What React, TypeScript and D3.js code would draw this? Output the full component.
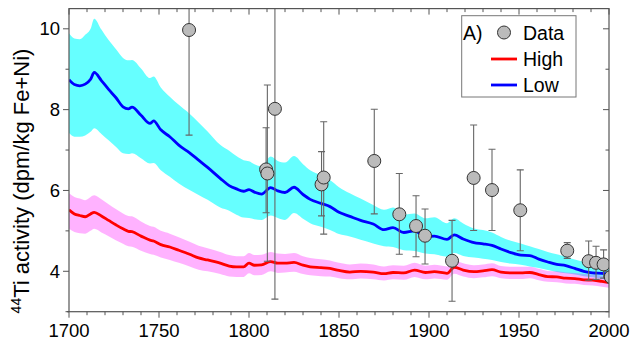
import React from "react";
import * as d3 from "d3";

const years = [1700,1703,1706,1709,1712,1714,1718,1722,1726,1730,1733,1735,1740,1745,1747,1751,1756,1761,1767,1772,1777,1784,1789,1793,1797,1800,1803,1807,1812,1816,1820,1825,1830,1834,1840,1845,1850,1856,1862,1869,1875,1880,1886,1892,1898,1903,1910,1914,1919,1925,1930,1935,1940,1945,1951,1956,1961,1966,1971,1976,1981,1986,1991,1996,2000];
const low = [8.74,8.62,8.59,8.63,8.75,8.92,8.72,8.50,8.30,8.07,8.02,8.06,7.86,7.66,7.72,7.50,7.33,7.12,6.93,6.75,6.57,6.30,6.12,6.04,5.98,6.02,5.96,5.91,6.07,5.99,5.95,6.08,5.90,5.78,5.68,5.60,5.46,5.36,5.26,5.17,5.03,5.08,4.96,5.00,4.86,4.87,4.79,4.90,4.80,4.71,4.68,4.64,4.55,4.47,4.40,4.39,4.30,4.23,4.17,4.14,4.07,4.00,3.96,3.95,3.93];
const lowUpper = [9.89,9.76,9.74,9.85,10.0,10.25,9.98,9.72,9.50,9.28,9.22,9.23,9.02,8.78,8.82,8.55,8.32,8.12,7.90,7.68,7.46,7.13,6.98,6.85,6.75,6.72,6.65,6.60,6.84,6.73,6.69,6.85,6.65,6.50,6.38,6.26,6.08,5.93,5.80,5.64,5.52,5.58,5.40,5.43,5.31,5.34,5.19,5.31,5.18,5.06,5.02,4.96,4.85,4.76,4.69,4.62,4.55,4.48,4.42,4.36,4.29,4.23,4.18,4.14,4.11];
const lowLower = [7.42,7.33,7.33,7.36,7.45,7.54,7.40,7.24,7.08,6.92,6.90,6.92,6.80,6.67,6.68,6.50,6.34,6.17,6.01,5.89,5.77,5.58,5.50,5.40,5.33,5.32,5.29,5.27,5.38,5.32,5.27,5.44,5.30,5.19,5.10,5.02,4.92,4.86,4.78,4.69,4.62,4.60,4.52,4.50,4.44,4.42,4.36,4.45,4.38,4.34,4.31,4.28,4.23,4.19,4.16,4.12,4.08,4.03,3.98,3.95,3.92,3.88,3.85,3.81,3.78];
const high = [5.52,5.42,5.38,5.35,5.42,5.46,5.37,5.26,5.15,5.05,4.99,4.98,4.87,4.77,4.75,4.66,4.60,4.52,4.42,4.33,4.28,4.20,4.13,4.11,4.11,4.20,4.15,4.16,4.24,4.20,4.20,4.22,4.15,4.11,4.09,4.07,4.02,3.98,4.00,3.98,3.94,3.97,3.96,4.03,3.97,3.99,3.95,4.10,4.03,3.99,4.01,4.04,3.98,3.96,3.96,3.97,3.92,3.87,3.86,3.83,3.82,3.79,3.78,3.75,3.72];
const highUpper = [5.93,5.84,5.80,5.76,5.84,5.88,5.78,5.66,5.54,5.43,5.37,5.36,5.23,5.12,5.10,5.00,4.93,4.84,4.73,4.63,4.57,4.48,4.40,4.37,4.37,4.45,4.40,4.41,4.48,4.44,4.43,4.45,4.37,4.33,4.30,4.27,4.21,4.17,4.19,4.17,4.12,4.15,4.14,4.21,4.14,4.16,4.12,4.27,4.20,4.15,4.17,4.20,4.13,4.11,4.11,4.11,4.06,4.01,4.00,3.97,3.96,3.93,3.92,3.89,3.86];
const highLower = [5.05,4.97,4.94,4.93,5.00,5.05,4.96,4.87,4.77,4.68,4.62,4.61,4.51,4.43,4.41,4.34,4.28,4.21,4.12,4.04,4.00,3.93,3.87,3.86,3.86,3.95,3.90,3.91,4.00,3.96,3.97,3.99,3.93,3.90,3.88,3.87,3.83,3.80,3.82,3.80,3.77,3.80,3.79,3.86,3.80,3.82,3.79,3.94,3.87,3.83,3.85,3.88,3.83,3.81,3.81,3.83,3.78,3.74,3.73,3.70,3.69,3.66,3.65,3.62,3.59];

const dataYears = [1766.7,1809.5,1810.2,1814.4,1840.3,1841.5,1869.6,1883.5,1892.8,1897.8,1912.8,1924.8,1935.0,1950.7,1976.8,1988.7,1992.8,1997.0,2001.0];
const dataValues = [9.97,6.52,6.42,8.02,6.15,6.32,6.73,5.41,5.12,4.88,4.26,6.31,6.01,5.51,4.51,4.25,4.21,4.17,3.86];
const dataLow = [7.37,5.45,4.25,3.31,5.37,4.92,5.42,4.42,4.36,4.18,3.26,5.01,5.01,4.51,4.32,3.78,3.80,3.83,3.70];
const dataHigh = [12.6,7.55,8.61,12.7,6.96,7.70,8.01,6.42,5.87,5.54,5.26,7.62,7.02,6.51,4.71,4.75,4.62,4.53,4.00];

const xTicks = [1700,1750,1800,1850,1900,1950,2000];
const yTicks = [4,6,8,10];

const W = 631, H = 342;
const L = 69, R = 609, T = 8.6, B = 311.7;
const FONT = "'Liberation Sans', Arial, sans-serif";
const AX = "#555";

export default function App() {
  const x = d3.scaleLinear().domain([1700, 2000]).range([L, R]);
  const y = d3.scaleLinear().domain([3, 10.5]).range([B, T]);
  const idx = d3.range(years.length);

  const band = (up: number[], dn: number[]) =>
    d3.area<number>().x(i => x(years[i])).y0(i => y(dn[i])).y1(i => y(up[i])).curve(d3.curveMonotoneX)(idx) || "";
  const line = (v: number[]) =>
    d3.line<number>().x(i => x(years[i])).y(i => y(v[i])).curve(d3.curveMonotoneX)(idx) || "";

  const minorX = d3.range(1700, 2001, 10);
  const minorY = d3.range(3, 10.01, 1);

  return (
    <svg width={W} height={H} style={{ position: "absolute", left: 0, top: 0, background: "#fff" }} fontFamily={FONT}>
      <defs>
        <clipPath id="plot"><rect x={L} y={T} width={R - L} height={B - T} /></clipPath>
      </defs>
      <g clipPath="url(#plot)">
        <path d={band(lowUpper, lowLower)} fill="#00ffff" fillOpacity={0.6} />
        <path d={band(highUpper, highLower)} fill="#ff00ff" fillOpacity={0.3} />
        <path d={line(high)} fill="none" stroke="#ff0000" strokeWidth={2.8} />
        <path d={line(low)} fill="none" stroke="#0000ff" strokeWidth={2.8} />
        {dataYears.map((yr, i) => (
          <g key={"e" + i} stroke="#666" strokeWidth={1.1}>
            <line x1={x(yr)} x2={x(yr)} y1={y(dataLow[i])} y2={y(dataHigh[i])} />
            <line x1={x(yr) - 3.5} x2={x(yr) + 3.5} y1={y(dataLow[i])} y2={y(dataLow[i])} />
            <line x1={x(yr) - 3.5} x2={x(yr) + 3.5} y1={y(dataHigh[i])} y2={y(dataHigh[i])} />
          </g>
        ))}
        {dataYears.map((yr, i) => (
          <circle key={"c" + i} cx={x(yr)} cy={y(dataValues[i])} r={6.5} fill="#bbbbbb" stroke="#333" strokeWidth={1} />
        ))}
      </g>
      {/* frame */}
      <rect x={L} y={T} width={R - L} height={B - T} fill="none" stroke={AX} strokeWidth={1.2} />
      <line x1={L - 2} x2={L} y1={B} y2={B} stroke={AX} strokeWidth={1.2} />
      {/* x ticks */}
      {minorX.map(v => {
        const major = v % 50 === 0;
        const len = major ? 6 : 3.5;
        return (
          <g key={"xt" + v} stroke={AX} strokeWidth={1}>
            <line x1={x(v)} x2={x(v)} y1={B} y2={B + len} />
            <line x1={x(v)} x2={x(v)} y1={T} y2={T + len} />
          </g>
        );
      })}
      {minorY.map(v => {
        const major = v % 2 === 0;
        const len = major ? 6 : 3.5;
        return (
          <g key={"yt" + v} stroke={AX} strokeWidth={1}>
            <line x1={L - len} x2={L} y1={y(v)} y2={y(v)} />
            <line x1={R - len} x2={R} y1={y(v)} y2={y(v)} />
          </g>
        );
      })}
      {xTicks.map(v => (
        <text key={"xl" + v} x={x(v)} y={B + 25} textAnchor="middle" fontSize={18.5} fill="#000">{v}</text>
      ))}
      {yTicks.map(v => (
        <text key={"yl" + v} x={L - 9} y={y(v)} dy="0.35em" textAnchor="end" fontSize={18.5} fill="#000">{v}</text>
      ))}
      <text transform={`translate(29, 181) rotate(-90)`} textAnchor="middle" fontSize={22} fill="#000">
        <tspan fontSize={14} dy="-8">44</tspan>
        <tspan dy="8">Ti activity (dpm/kg Fe+Ni)</tspan>
      </text>
      {/* legend */}
      <rect x={461.7} y={15.7} width={114.3} height={81.3} fill="#fff" stroke="#777" strokeWidth={1} />
      <text x={463} y={40} fontSize={19.5} fill="#000">A)</text>
      <circle cx={504} cy={32.5} r={6.5} fill="#bbbbbb" stroke="#333" strokeWidth={1} />
      <text x={523} y={40} fontSize={19.5} fill="#000">Data</text>
      <line x1={491} x2={517} y1={59} y2={59} stroke="#ff0000" strokeWidth={2.8} />
      <text x={523} y={66} fontSize={19.5} fill="#000">High</text>
      <line x1={491} x2={517} y1={85} y2={85} stroke="#0000ff" strokeWidth={2.8} />
      <text x={523} y={92} fontSize={19.5} fill="#000">Low</text>
    </svg>
  );
}
